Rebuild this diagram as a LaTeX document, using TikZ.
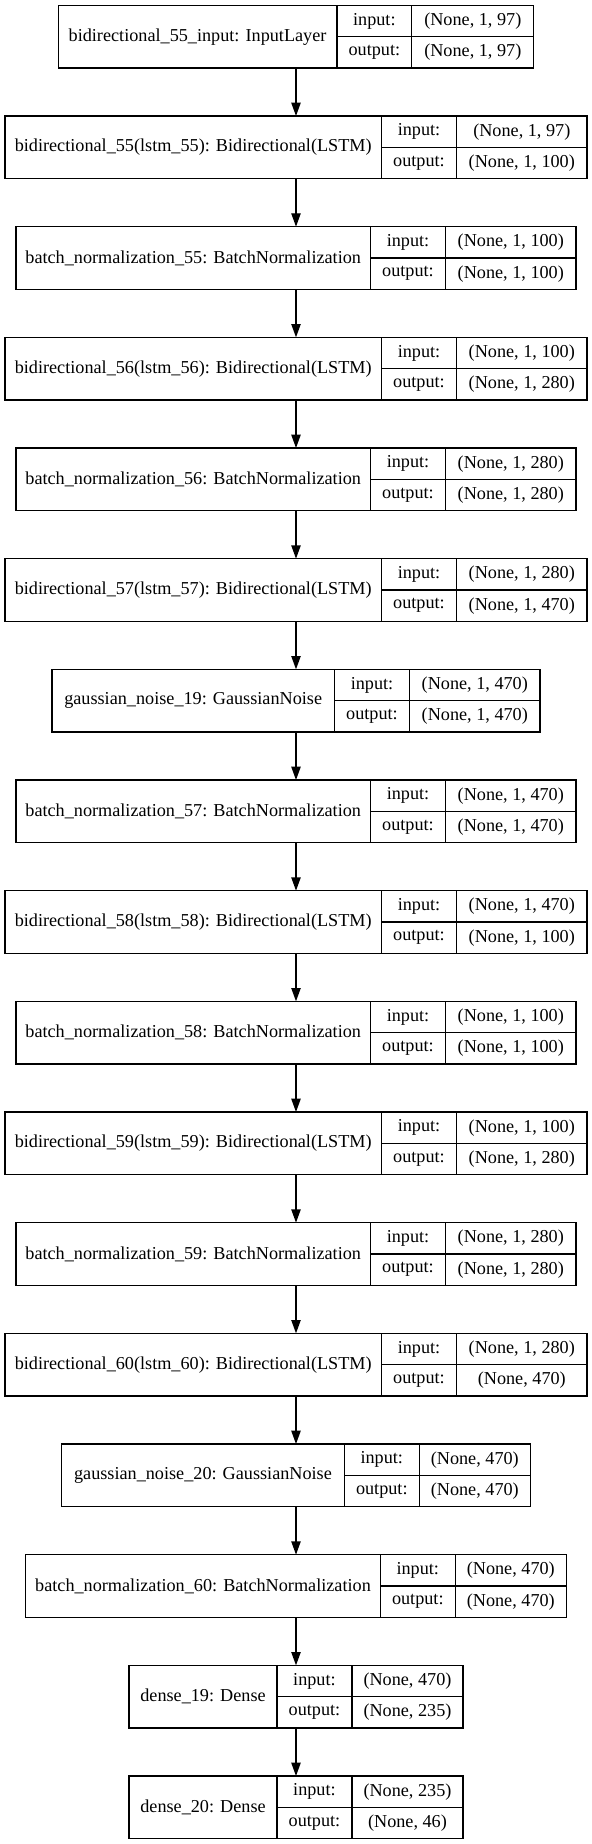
\documentclass[tikz,border=0pt]{standalone}
\usepackage{fontspec}
\setmainfont{Liberation Serif}
\usetikzlibrary{arrows.meta}
\newcommand\kfont{\fontsize{13.65pt}{16pt}\selectfont}
\newcommand\kerasrec[8]{%
  \pgfmathsetmacro\rectot{#6+56.2+#8}%
  \pgfmathsetmacro\recy{-(27.5+83*#2)}%
  \node[recbox, minimum width=\rectot pt] (#1) at (222pt,\recy pt) {};
  \node[fieldbox, minimum width=#6pt, minimum height=47pt, anchor=west] (#1name) at (#1.west) {#3};
  \node[fieldbox, minimum width=56.2pt, anchor=north west] (#1pin) at (#1name.north east) {input:};
  \node[fieldbox, minimum width=56.2pt, anchor=north west] (#1pout) at (#1pin.south west) {output:};
  \node[fieldbox, minimum width=#8pt, anchor=north west] (#1vin) at (#1pin.north east) {#4};
  \node[fieldbox, minimum width=#8pt, anchor=north west] (#1vout) at (#1vin.south west) {#5};
  \draw[divider] (#1name.north east) -- (#1name.south east);
  \draw[divider] (#1pin.north east) -- (#1pout.south east);
  \draw[divider] (#1pin.south west) -- (#1vin.south east);
}
\begin{document}
\begin{tikzpicture}[
  recbox/.style={draw=black, line width=1pt, rectangle, inner sep=0pt, outer sep=0pt, minimum height=47pt},
  fieldbox/.style={rectangle, inner sep=0pt, outer sep=0pt, minimum height=23.5pt, font=\kfont},
  divider/.style={draw=black, line width=1pt},
  arr/.style={draw=black, line width=1pt, -{Triangle[length=10pt,width=7pt]}}
]
\useasboundingbox (0,0) rectangle (444pt,-1383pt);
\kerasrec{r0}{0}{bidirectional\_55\_input: InputLayer}{(None, 1, 97)}{(None, 1, 97)}{209}{}{91.5}
\kerasrec{r1}{1}{bidirectional\_55(lstm\_55): Bidirectional(LSTM)}{(None, 1, 97)}{(None, 1, 100)}{282.5}{}{98}
\kerasrec{r2}{2}{batch\_normalization\_55: BatchNormalization}{(None, 1, 100)}{(None, 1, 100)}{266}{}{98}
\kerasrec{r3}{3}{bidirectional\_56(lstm\_56): Bidirectional(LSTM)}{(None, 1, 100)}{(None, 1, 280)}{282.5}{}{98}
\kerasrec{r4}{4}{batch\_normalization\_56: BatchNormalization}{(None, 1, 280)}{(None, 1, 280)}{266}{}{98}
\kerasrec{r5}{5}{bidirectional\_57(lstm\_57): Bidirectional(LSTM)}{(None, 1, 280)}{(None, 1, 470)}{282.5}{}{98}
\kerasrec{r6}{6}{gaussian\_noise\_19: GaussianNoise}{(None, 1, 470)}{(None, 1, 470)}{212}{}{98}
\kerasrec{r7}{7}{batch\_normalization\_57: BatchNormalization}{(None, 1, 470)}{(None, 1, 470)}{266}{}{98}
\kerasrec{r8}{8}{bidirectional\_58(lstm\_58): Bidirectional(LSTM)}{(None, 1, 470)}{(None, 1, 100)}{282.5}{}{98}
\kerasrec{r9}{9}{batch\_normalization\_58: BatchNormalization}{(None, 1, 100)}{(None, 1, 100)}{266}{}{98}
\kerasrec{r10}{10}{bidirectional\_59(lstm\_59): Bidirectional(LSTM)}{(None, 1, 100)}{(None, 1, 280)}{282.5}{}{98}
\kerasrec{r11}{11}{batch\_normalization\_59: BatchNormalization}{(None, 1, 280)}{(None, 1, 280)}{266}{}{98}
\kerasrec{r12}{12}{bidirectional\_60(lstm\_60): Bidirectional(LSTM)}{(None, 1, 280)}{(None, 470)}{282.5}{}{98}
\kerasrec{r13}{13}{gaussian\_noise\_20: GaussianNoise}{(None, 470)}{(None, 470)}{212}{}{83.3}
\kerasrec{r14}{14}{batch\_normalization\_60: BatchNormalization}{(None, 470)}{(None, 470)}{266}{}{83.3}
\kerasrec{r15}{15}{dense\_19: Dense}{(None, 470)}{(None, 235)}{111}{}{83.3}
\kerasrec{r16}{16}{dense\_20: Dense}{(None, 235)}{(None, 46)}{111}{}{83.3}
\foreach \a/\b in {r0/r1,r1/r2,r2/r3,r3/r4,r4/r5,r5/r6,r6/r7,r7/r8,r8/r9,r9/r10,r10/r11,r11/r12,r12/r13,r13/r14,r14/r15,r15/r16}
  \draw[arr] (\a) -- (\b);
\end{tikzpicture}
\end{document}
